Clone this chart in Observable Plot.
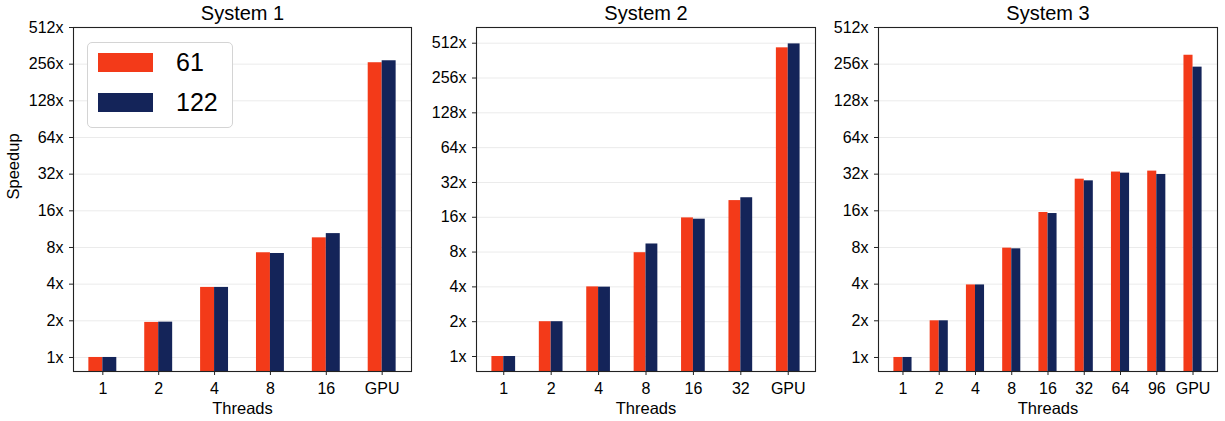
<!DOCTYPE html>
<html>
<head>
<meta charset="utf-8">
<script src="https://cdn.jsdelivr.net/npm/d3@7"></script>
<script src="https://cdn.jsdelivr.net/npm/@observablehq/plot@0.6"></script>
<style>
  html, body { margin: 0; padding: 0; background: #fff; }
  body { width: 1225px; height: 421px; position: relative; overflow: hidden; font-family: "Liberation Sans", Arial, sans-serif; }
  .panel { position: absolute; top: 0; }
  .legend { position: absolute; left: 87px; top: 42px; width: 144px; height: 84px; border: 1px solid #d4d4d4; border-radius: 5px; background: #fff; }
  .legend .row { position: absolute; left: 10px; display: flex; align-items: center; }
  .legend .sw { width: 55px; height: 19px; }
  .legend .lab { margin-left: 23px; font-size: 25px; color: #000; line-height: 19px; }
</style>
</head>
<body>
<div id="p1" class="panel" style="left:0px"></div>
<div id="p2" class="panel" style="left:413px"></div>
<div id="p3" class="panel" style="left:817px"></div>
<div class="legend">
  <div class="row" style="top:10px"><div class="sw" id="sw0"></div><div class="lab" id="lab0"></div></div>
  <div class="row" style="top:50px"><div class="sw" id="sw1"></div><div class="lab" id="lab1"></div></div>
</div>
<script>
// ---- data ----
const seriesNames = ["61", "122"];
const seriesColors = ["#F33A19", "#142459"];
const yTicks = [1, 2, 4, 8, 16, 32, 64, 128, 256, 512];

const titles = ["System 1", "System 2", "System 3"];

const threads1 = ["1", "2", "4", "8", "16", "GPU"];
const sys1_61  = [1, 1.94, 3.76, 7.24, 9.6, 263];
const sys1_122 = [1, 1.95, 3.76, 7.14, 10.4, 273];

const threads2 = ["1", "2", "4", "8", "16", "32", "GPU"];
const sys2_61  = [1, 2.0, 4.0, 7.9, 15.8, 22.3, 467];
const sys2_122 = [1, 2.0, 3.98, 9.4, 15.4, 23.6, 505];

const threads3 = ["1", "2", "4", "8", "16", "32", "64", "96", "GPU"];
const sys3_61  = [1, 2.0, 3.94, 7.9, 15.5, 29.1, 33.3, 33.9, 303];
const sys3_122 = [1, 2.0, 3.94, 7.8, 15.2, 28.2, 32.6, 31.8, 242];

const yDomains = [[0.767, 512], [0.742, 700], [0.767, 512]];

// ---- build ----
const FONT = "Liberation Sans, Arial, sans-serif";
const panels = [
  {id: "p1", title: titles[0], cats: threads1, a: sys1_61, b: sys1_122, width: 413, ml: 73, mr: 2, ylabel: true},
  {id: "p2", title: titles[1], cats: threads2, a: sys2_61, b: sys2_122, width: 404, ml: 63, mr: 2, ylabel: false},
  {id: "p3", title: titles[2], cats: threads3, a: sys3_61, b: sys3_122, width: 404, ml: 61, mr: 4, ylabel: false}
];

panels.forEach((p, k) => {
  const n = p.cats.length;
  const bw = 0.25;
  const rows = [];
  p.cats.forEach((c, i) => {
    rows.push({i, s: 0, x1: i - bw, x2: i, v: p.a[i]});
    rows.push({i, s: 1, x1: i, x2: i + bw, v: p.b[i]});
  });
  const ext = (n - 1 + 2 * bw);
  const m = 0.05 * ext;
  const xDomain = [-bw - m, n - 1 + bw + m];
  const yDom = yDomains[k];
  const ticks = yTicks.filter(t => t >= yDom[0] && t <= yDom[1]);

  const marks = [
    Plot.gridY(ticks, {stroke: "#ebebeb", strokeOpacity: 1}),
    Plot.rectY(rows, {x1: "x1", x2: "x2", y1: yDom[0], y2: "v", fill: d => seriesColors[d.s]}),
    Plot.frame({stroke: "#222", strokeWidth: 1.1}),
    Plot.axisY(ticks, {tickFormat: d => d + "x", tickSize: 4, tickPadding: 6, fontSize: 16, label: null, stroke: "#222"}),
    Plot.axisX(d3.range(n), {tickFormat: i => p.cats[i], tickSize: 4, tickPadding: 7, fontSize: 16, label: null, stroke: "#222"}),
    Plot.text([p.title], {frameAnchor: "top", lineAnchor: "middle", dy: -14, fontSize: 20, fill: "#000"}),
    Plot.text(["Threads"], {frameAnchor: "bottom", lineAnchor: "middle", dy: 37, fontSize: 16.5, fill: "#000"})
  ];
  if (p.ylabel) {
    marks.push(Plot.text(["Speedup"], {frameAnchor: "left", dx: -60, rotate: -90, fontSize: 16.5, fill: "#000"}));
  }

  const chart = Plot.plot({
    width: p.width,
    height: 421,
    marginTop: 27,
    marginBottom: 50,
    marginLeft: p.ml,
    marginRight: p.mr,
    style: {fontFamily: FONT, fontSize: "16px", color: "#000", background: "transparent"},
    x: {type: "linear", domain: xDomain},
    y: {type: "log", base: 2, domain: yDom},
    marks
  });
  document.getElementById(p.id).appendChild(chart);
});

seriesNames.forEach((s, j) => {
  document.getElementById("sw" + j).style.background = seriesColors[j];
  document.getElementById("lab" + j).textContent = s;
});
</script>
</body>
</html>
